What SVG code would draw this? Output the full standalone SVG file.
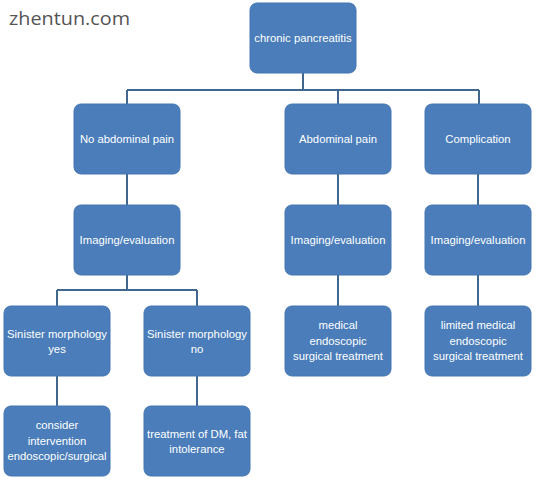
<svg xmlns="http://www.w3.org/2000/svg" width="536" height="480" viewBox="0 0 536 480">
<style>
.box{fill:#4a7dba;stroke:#4576b2;stroke-width:1}
.t{fill:#ffffff;font-family:"Liberation Sans",Arial,sans-serif;font-size:11.3px;text-anchor:middle}
.c{fill:none;stroke:#41678f;stroke-width:2}
.wm{fill:#555555;font-family:"Open Sans","DejaVu Sans",sans-serif;font-size:19px}
</style>
<rect width="536" height="480" fill="#ffffff"/>
<text class="wm" x="9" y="25" textLength="121" lengthAdjust="spacingAndGlyphs">zhentun.com</text>
<g id="connectors">
<path class="c" d="M303,73V90M127,90H479M127,90V104M338,90V104M479,90V104"/>
<path class="c" d="M127,174V205M338,174V205M478,174V205"/>
<path class="c" d="M127,275V290M57,290H197M57,290V306M197,290V306"/>
<path class="c" d="M338,275V306M478,275V306"/>
<path class="c" d="M57,376V406M197,376V406"/>
</g>
<g id="root"><rect class="box" x="250" y="3" width="106" height="70" rx="7"/><text class="t" x="303" y="42">chronic pancreatitis</text></g>
<g id="noPain"><rect class="box" x="74" y="104" width="106" height="70" rx="7"/><text class="t" x="127" y="143">No abdominal pain</text></g>
<g id="pain"><rect class="box" x="285" y="104" width="106" height="70" rx="7"/><text class="t" x="338" y="143">Abdominal pain</text></g>
<g id="complication"><rect class="box" x="425" y="104" width="106" height="70" rx="7"/><text class="t" x="478" y="143">Complication</text></g>
<g id="img1"><rect class="box" x="74" y="205" width="106" height="70" rx="7"/><text class="t" x="127" y="244">Imaging/evaluation</text></g>
<g id="img2"><rect class="box" x="285" y="205" width="106" height="70" rx="7"/><text class="t" x="338" y="244">Imaging/evaluation</text></g>
<g id="img3"><rect class="box" x="425" y="205" width="106" height="70" rx="7"/><text class="t" x="478" y="244">Imaging/evaluation</text></g>
<g id="sinYes"><rect class="box" x="4" y="306" width="106" height="70" rx="7"/><text class="t" x="57" y="337.5">Sinister morphology</text><text class="t" x="57" y="352.5">yes</text></g>
<g id="sinNo"><rect class="box" x="144" y="306" width="106" height="70" rx="7"/><text class="t" x="197" y="337.5">Sinister morphology</text><text class="t" x="197" y="352.5">no</text></g>
<g id="treat2"><rect class="box" x="285" y="306" width="106" height="70" rx="7"/><text class="t" x="338" y="329">medical</text><text class="t" x="338" y="344.5">endoscopic</text><text class="t" x="338" y="360">surgical treatment</text></g>
<g id="treat3"><rect class="box" x="425" y="306" width="106" height="70" rx="7"/><text class="t" x="478" y="329">limited medical</text><text class="t" x="478" y="344.5">endoscopic</text><text class="t" x="478" y="360">surgical treatment</text></g>
<g id="consider"><rect class="box" x="4" y="406" width="106" height="70" rx="7"/><text class="t" x="57" y="429">consider</text><text class="t" x="57" y="444.5">intervention</text><text class="t" x="57" y="460">endoscopic/surgical</text></g>
<g id="dm"><rect class="box" x="144" y="406" width="106" height="70" rx="7"/><text class="t" x="197" y="437.5">treatment of DM, fat</text><text class="t" x="197" y="452.5">intolerance</text></g>
</svg>
